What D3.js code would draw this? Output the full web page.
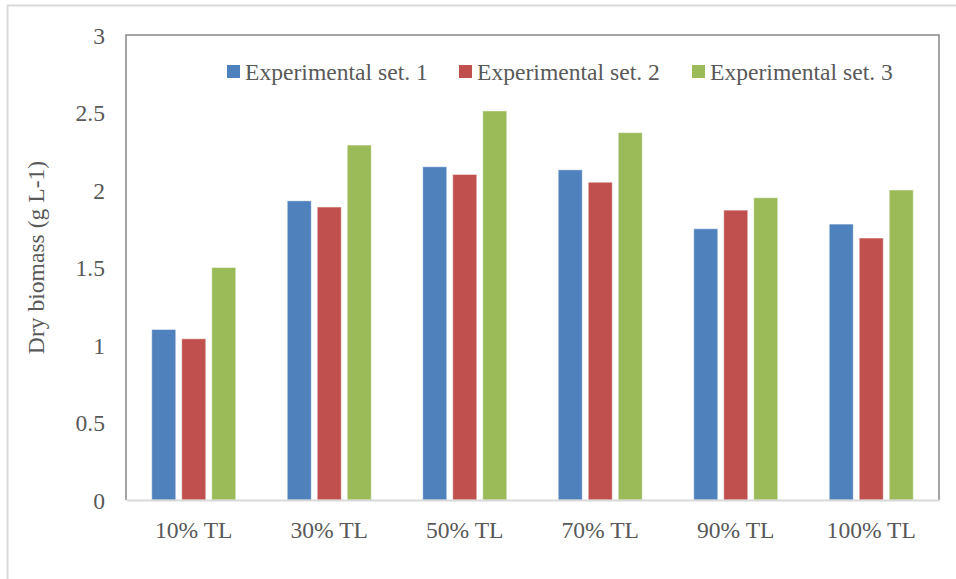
<!DOCTYPE html>
<html>
<head>
<meta charset="utf-8">
<script src="https://cdn.jsdelivr.net/npm/d3@7"></script>
<style>
  html, body { margin: 0; padding: 0; background: #fff; }
  svg { display: block; }
  text { font-family: "Liberation Serif", "Times New Roman", serif; fill: #595959; }
</style>
</head>
<body>
<svg id="chart" width="956" height="579"></svg>
<script>
// Dry biomass per light treatment, three experimental sets
const categories = ["10% TL", "30% TL", "50% TL", "70% TL", "90% TL", "100% TL"];
const seriesNames = ["Experimental set. 1", "Experimental set. 2", "Experimental set. 3"];
const set1 = [1.10, 1.93, 2.15, 2.13, 1.75, 1.78];
const set2 = [1.04, 1.89, 2.10, 2.05, 1.87, 1.69];
const set3 = [1.50, 2.29, 2.51, 2.37, 1.95, 2.00];
const seriesColors = ["#4F81BD", "#C0504D", "#9BBB59"];
const yTicks = [0, 0.5, 1, 1.5, 2, 2.5, 3];
const yTickLabels = ["0", "0.5", "1", "1.5", "2", "2.5", "3"];
const yTitle = "Dry biomass (g L-1)";

const seriesValues = [set1, set2, set3];

const svg = d3.select("#chart");
const W = 956, H = 579;
const plot = { left: 126, top: 35, right: 939, bottom: 500 };
const fontSize = 23.6;

// Outer frame (top and left edges)
svg.append("path")
  .attr("d", `M7.5,${H} V5.5 H${W}`)
  .attr("fill", "none")
  .attr("stroke", "#d9d9d9")
  .attr("stroke-width", 2);

const x0 = d3.scaleBand()
  .domain(categories)
  .range([plot.left, plot.right])
  .padding(0);

const groupW = 84;
const x1 = d3.scaleBand()
  .domain(seriesNames)
  .range([(x0.bandwidth() - groupW) / 2, (x0.bandwidth() + groupW) / 2])
  .paddingInner(0.2)
  .paddingOuter(0);

const y = d3.scaleLinear().domain([0, 3]).range([plot.bottom, plot.top]);

// Bars
const groups = svg.append("g").selectAll("g")
  .data(categories)
  .join("g")
  .attr("transform", d => `translate(${x0(d)},0)`);

groups.selectAll("rect")
  .data((c, ci) => seriesNames.map((s, si) => ({ s, si, v: seriesValues[si][ci] })))
  .join("rect")
  .attr("x", d => x1(d.s))
  .attr("width", x1.bandwidth())
  .attr("y", d => y(d.v))
  .attr("height", d => y(0) - y(d.v))
  .attr("fill", d => seriesColors[d.si])
  .attr("stroke", "rgba(255,255,255,0.45)")
  .attr("stroke-width", 1);

// Plot frame: left, top, right in gray
svg.append("path")
  .attr("d", `M${plot.left},${plot.bottom} V${plot.top} H${plot.right} V${plot.bottom}`)
  .attr("fill", "none")
  .attr("stroke", "#868686")
  .attr("stroke-width", 1.5);

// Category axis baseline
const xAxis = d3.axisBottom(x0).tickSize(0).tickPadding(0);
const xg = svg.append("g")
  .attr("transform", `translate(0,${plot.bottom})`)
  .call(xAxis);
xg.select(".domain")
  .attr("stroke", "#d9d9d9")
  .attr("stroke-width", 2);
xg.selectAll("text")
  .attr("y", 38)
  .attr("dy", 0)
  .attr("font-size", fontSize)
  .style("font-family", '"Liberation Serif", "Times New Roman", serif')
  .attr("fill", "#595959");

// Value axis labels
const yAxis = d3.axisLeft(y)
  .tickValues(yTicks)
  .tickFormat((d, i) => yTickLabels[i])
  .tickSize(0)
  .tickPadding(0);
const yg = svg.append("g")
  .attr("transform", `translate(${plot.left},0)`)
  .call(yAxis);
yg.select(".domain").remove();
yg.selectAll("text")
  .attr("x", -21)
  .attr("dy", "0.34em")
  .attr("font-size", fontSize)
  .style("font-family", '"Liberation Serif", "Times New Roman", serif')
  .attr("fill", "#595959");

// Value axis title
svg.append("text")
  .attr("transform", `translate(44,${(plot.top + plot.bottom) / 2 - 10}) rotate(-90)`)
  .attr("text-anchor", "middle")
  .attr("font-size", fontSize)
  .text(yTitle);

// Legend
const legendX = [227, 459, 692];
const legend = svg.append("g").selectAll("g")
  .data(seriesNames)
  .join("g")
  .attr("transform", (d, i) => `translate(${legendX[i]},65)`);
legend.append("rect")
  .attr("width", 13)
  .attr("height", 13)
  .attr("fill", (d, i) => seriesColors[i]);
legend.append("text")
  .attr("x", 18)
  .attr("y", 15)
  .attr("font-size", fontSize)
  .text(d => d);
</script>
</body>
</html>
